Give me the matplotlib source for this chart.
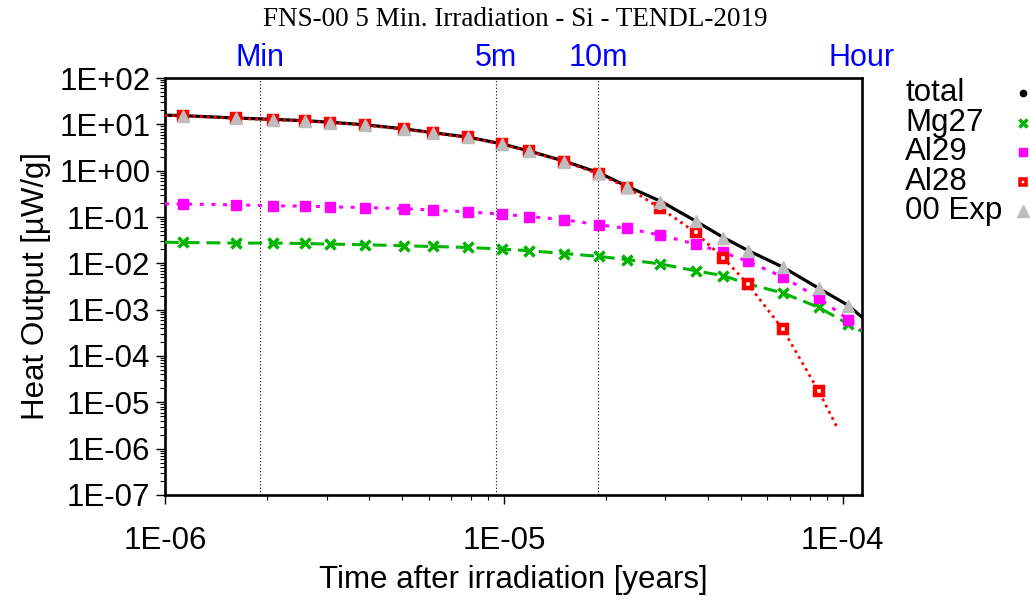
import matplotlib
matplotlib.use("Agg")
from matplotlib import pyplot
from matplotlib.lines import Line2D
from matplotlib.ticker import FixedLocator, LogLocator, NullFormatter
import numpy as np

pyplot.rcParams["font.family"] = ["Liberation Sans", "DejaVu Sans"]

# time after irradiation [years]; first and last entries are where the lines meet the frame
times = [1.0e-6, 1.13e-6, 1.62e-6, 2.08e-6, 2.59e-6, 3.07e-6, 3.89e-6, 5.07e-6, 6.18e-6,
         7.84e-6, 9.86e-6, 1.19e-5, 1.51e-5, 1.91e-5, 2.31e-5, 2.9e-5, 3.68e-5, 4.45e-5,
         5.25e-5, 6.66e-5, 8.5e-5, 1.04e-4, 1.138e-4]

total = [15.8, 15.4, 13.7, 12.8, 12.0, 11.1, 9.8, 8.0, 6.6, 5.3, 3.8, 2.65, 1.6, 0.9, 0.46,
         0.22, 0.082, 0.036, 0.019, 0.0083, 0.0029, 0.00123, 7.0e-4]
mg27 = [0.0285, 0.0282, 0.0274, 0.0274, 0.0268, 0.026, 0.0252, 0.0239, 0.0231, 0.022, 0.0203,
        0.0187, 0.0163, 0.0141, 0.012, 0.0097, 0.0069, 0.0054, 0.0036, 0.00229, 0.00112,
        4.9e-4, 3.4e-4]
al29 = [0.193, 0.19, 0.183, 0.174, 0.172, 0.166, 0.16, 0.152, 0.141, 0.129, 0.115, 0.1025,
        0.087, 0.068, 0.0565, 0.0407, 0.026, 0.0172, 0.011, 0.0051, 0.00179, 6.1e-4, 3.8e-4]

# Al28 line stops before the last time step
al28_times = times[:21] + [9.66e-5]
al28 = [15.6, 15.2, 13.5, 12.6, 11.8, 10.9, 9.6, 7.8, 6.5, 5.2, 3.7, 2.6, 1.57, 0.84, 0.433,
        0.155, 0.0464, 0.013, 0.00358, 3.8e-4, 1.74e-5, 2.75e-6]

exp_times = times[1:22]
exp_vals = [15.0, 13.4, 12.6, 11.8, 10.9, 9.6, 7.8, 6.5, 5.2, 3.7, 2.6, 1.57, 0.88, 0.454,
            0.216, 0.080, 0.035, 0.0187, 0.00817, 0.00288, 0.00122]

marks = ["Min", "5m", "10m", "Hour"]
mark_times = [1.901e-6, 9.506e-6, 1.901e-5, 1.1408e-4]

fig = pyplot.figure(figsize=(10.3, 6.01), dpi=100)
ax = fig.add_axes([0.1602, 0.1764, 0.6767, 0.6938])

green = "#00b400"
every = list(range(1, 22))

ax.plot(times, total, color="black", lw=2.3, marker="o", ms=3, markevery=every, zorder=3)
ax.plot(times, mg27, color=green, lw=2.2, ls=(0, (4.5, 2.3)), marker="x", ms=7, mew=2.5,
        markevery=every, zorder=4)
ax.plot(times, al29, color="#ff00ff", lw=2.2, ls=(0, (1.3, 2.5)), marker="s", ms=7,
        markevery=every, zorder=5)
ax.plot(al28_times, al28, color="red", lw=2.0, ls=(0, (1, 1.5)), zorder=6)
ax.plot(al28_times[1:21], al28[1:21], ls="none", marker="s", ms=5.5, mfc="white", mec="red",
        mew=3.2, zorder=6)
ax.plot(exp_times, exp_vals, ls="none", marker="^", ms=8, color="#bdbdbd", zorder=7)

for t in mark_times[:3]:
    ax.axvline(t, color="black", lw=0.8, ls=(0, (1, 2)), zorder=1)
for name, t in zip(marks, mark_times):
    ax.text(t, 1.048, name, transform=ax.get_xaxis_transform(), color="#0000ff",
            fontsize=22, ha="center", va="center")

ax.set_xscale("log")
ax.set_yscale("log")
ax.set_xlim(1e-6, 1.1408e-4)
ax.set_ylim(1e-7, 1e2)

xdec = [1e-6, 1e-5, 1e-4]
ydec = [10.0 ** e for e in range(-7, 3)]
ax.xaxis.set_major_locator(FixedLocator(xdec))
ax.set_xticklabels(["1E-06", "1E-05", "1E-04"])
ax.yaxis.set_major_locator(FixedLocator(ydec))
ax.set_yticklabels([f"1E{e:+03d}" for e in range(-7, 3)])
ax.xaxis.set_minor_locator(LogLocator(base=10, subs=np.arange(2, 10), numticks=20))
ax.yaxis.set_minor_locator(LogLocator(base=10, subs=np.arange(2, 10), numticks=20))
ax.xaxis.set_minor_formatter(NullFormatter())
ax.yaxis.set_minor_formatter(NullFormatter())
ax.tick_params(which="major", direction="out", length=6.5, width=1, labelsize=22.5)
ax.tick_params(which="minor", direction="out", length=3.5, width=0.8)
ax.tick_params(axis="x", which="major", pad=16)
ax.tick_params(axis="y", which="major", pad=4)
for sp in ax.spines.values():
    sp.set_linewidth(1.9)

ax.set_xlabel("Time after irradiation [years]", fontsize=22.5, labelpad=6)
ax.set_ylabel("Heat Output [µW/g]", fontsize=22.5, labelpad=6)

fig.text(0.5, 0.968, "FNS-00 5 Min. Irradiation - Si - TENDL-2019", family="Liberation Serif",
         fontsize=19.5, ha="center", va="center")

# legend on the right, markers after the text
legend_names = ["total", "Mg27", "Al29", "Al28", "00 Exp"]
legend_styles = [dict(marker="o", ms=4.5, color="black"),
                 dict(marker="x", ms=6, mew=2.5, color=green),
                 dict(marker="s", ms=6, color="#ff00ff"),
                 dict(marker="s", ms=4.5, mfc="white", mec="red", mew=2.6),
                 dict(marker="^", ms=8, color="#bdbdbd")]
for i, (name, style) in enumerate(zip(legend_names, legend_styles)):
    y = 1 - (93 + i * 29.5) / 601
    fig.text(905 / 1030, y, name, fontsize=22.5, ha="left", va="center")
    fig.add_artist(Line2D([1023 / 1030], [y], ls="none", transform=fig.transFigure, **style))

pyplot.savefig("out.png", dpi=100)
